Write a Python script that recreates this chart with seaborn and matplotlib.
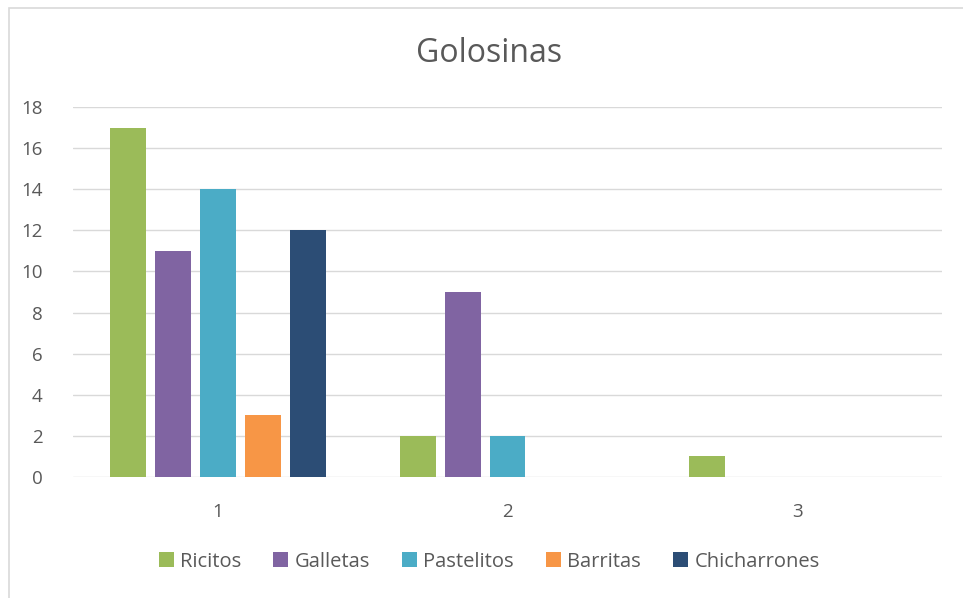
import matplotlib
matplotlib.use("Agg")
import matplotlib.pyplot as plt
import seaborn as sns
import pandas as pd
from matplotlib.patches import Rectangle

categories = ["1", "2", "3"]
series = ["Ricitos", "Galletas", "Pastelitos", "Barritas", "Chicharrones"]
ricitos = [17, 2, 1]
galletas = [11, 9, 0]
pastelitos = [14, 2, 0]
barritas = [3, 0, 0]
chicharrones = [12, 0, 0]
yticks = [0, 2, 4, 6, 8, 10, 12, 14, 16, 18]

colors = ["#9BBB59", "#8064A2", "#4BACC6", "#F79646", "#2C4D75"]

rows = []
for name, vals in zip(series, [ricitos, galletas, pastelitos, barritas, chicharrones]):
    for cat, v in zip(categories, vals):
        rows.append({"Grupo": cat, "Serie": name, "Valor": v})
df = pd.DataFrame(rows)

sns.set_theme(style="white")
plt.rcParams["font.family"] = ["Open Sans", "DejaVu Sans"]
text_color = "#595959"

fig = plt.figure(figsize=(9.63, 5.98), dpi=100)
ax = fig.add_axes([0.0758, 0.2023, 0.9024, 0.6188])

sns.barplot(data=df, x="Grupo", y="Valor", hue="Serie", order=categories,
            hue_order=series, palette=colors, width=0.776, gap=0.2,
            saturation=1, linewidth=0, ax=ax, legend=True)

ax.set_ylim(0, 18)
ax.set_yticks(yticks)
ax.set_xlim(-0.5, 2.5)
ax.set_xlabel("")
ax.set_ylabel("")
ax.grid(axis="y", color="#D9D9D9", linewidth=1)
ax.set_axisbelow(True)
for s in ax.spines.values():
    s.set_visible(False)
ax.tick_params(axis="both", length=0, labelsize=13.5, colors=text_color)
ax.tick_params(axis="y", pad=22)
ax.tick_params(axis="x", pad=19)

fig.text(0.508, 0.91, "Golosinas", ha="center", va="center",
         fontsize=23, color=text_color)

handles, labels = ax.get_legend_handles_labels()
ax.get_legend().remove()
leg = fig.legend(handles, labels, loc="center", bbox_to_anchor=(0.508, 0.061),
                 ncol=5, frameon=False, fontsize=14.5, handlelength=0.75,
                 handleheight=0.75, handletextpad=0.3, columnspacing=1.6)
for t in leg.get_texts():
    t.set_color(text_color)

# chart frame
fig.patches.append(Rectangle((9 / 963, -0.05), 1.2, 1 - 8 / 598 + 0.05,
                             transform=fig.transFigure, fill=False,
                             edgecolor="#D9D9D9", linewidth=1.2))

fig.savefig("out.png", dpi=100)
